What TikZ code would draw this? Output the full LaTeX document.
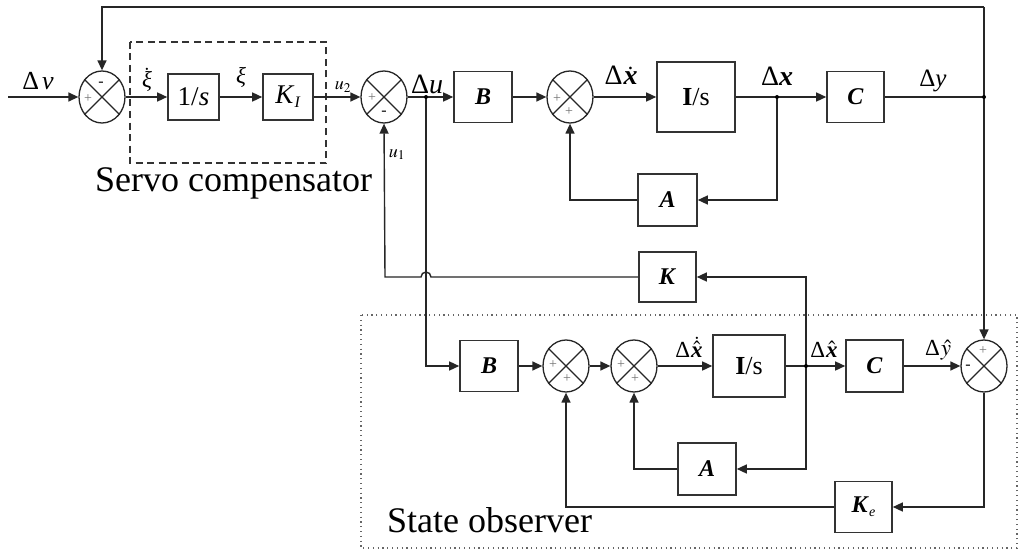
\documentclass[tikz,border=0pt]{standalone}
\usepackage{mathptmx}
\usepackage[no-math]{fontspec}
\setmainfont{Liberation Serif}
\usetikzlibrary{arrows.meta,shapes.geometric}
\newcommand{\fs}[1]{\fontsize{#1}{#1}\selectfont}
\newcommand{\bix}{\hbox{\bfseries\itshape x}}
\tikzset{
  wire/.style={line width=1.4pt, draw=black!85},
  arr/.style={wire, -{Triangle[length=10pt,width=9pt]}},
  blk/.style={draw=black!80, line width=1.6pt, rectangle, inner sep=0pt, font=\fs{24}},
  sumj/.style={draw=black!85, line width=1.3pt, ellipse, minimum width=46pt, minimum height=52pt, inner sep=0pt},
  sgn/.style={text=black!55, font=\fs{14}, inner sep=0pt},
  msgn/.style={text=black!85, font=\fs{16}\bfseries, inner sep=0pt},
  jdot/.style={circle, fill=black, inner sep=0pt, minimum size=4pt},
  lbl/.style={inner sep=0pt, anchor=base}
}
\begin{document}
\begin{tikzpicture}[x=1pt,y=-1pt]
\fill[white] (0,0) rectangle (1024,559);
\useasboundingbox (0,0) rectangle (1024,559);

% frames
\draw[black!80, line width=1.5pt, dash pattern=on 7pt off 4.5pt] (130,42) rectangle (326,163);
\draw[black!60, line width=1.1pt, dash pattern=on 1.2pt off 3.6pt] (361,315) rectangle (1017,548);

% summing junctions
\node[sumj] (s1) at (102,97) {};
\node[sumj] (s2) at (384,97) {};
\node[sumj] (s3) at (570,97) {};
\node[sumj] (s4) at (566,366) {};
\node[sumj] (s5) at (634,366) {};
\node[sumj] (s6) at (984,366) {};
\foreach \s in {s1,s2,s3,s4,s5,s6}{
  \draw[black!85, line width=1.1pt] (\s.45) -- (\s.225) (\s.135) -- (\s.315);
}
% signs
\node[msgn] at (101,84) {-};
\node[sgn] at (88,99) {+};
\node[sgn] at (372,98) {+};
\node[msgn] at (384,113) {-};
\node[sgn] at (557,99) {+};
\node[sgn] at (569,112) {+};
\node[sgn] at (553,365) {+};
\node[sgn] at (567,379) {+};
\node[sgn] at (621,365) {+};
\node[sgn] at (635,379) {+};
\node[sgn] at (983,351) {+};
\node[msgn] at (968,367) {-};

% blocks
\node[blk, minimum width=51pt, minimum height=46pt] (int1) at (193.5,97) {\fs{27}1/\textit{s}};
\node[blk, minimum width=50pt, minimum height=46pt] (KI) at (288,97) {\fs{27}\textit{K}\raisebox{-4pt}{\fs{16}\textit{I}}};
\node[blk, minimum width=58pt, minimum height=51pt] (B) at (483,97) {\textbf{\textit{B}}};
\node[blk, minimum width=78pt, minimum height=70pt] (Int) at (696,97) {\fs{26}\textbf{I}/s};
\node[blk, minimum width=57pt, minimum height=51pt] (C) at (855.5,97) {\textbf{\textit{C}}};
\node[blk, minimum width=59pt, minimum height=52pt] (A) at (667.5,200) {\textbf{\textit{A}}};
\node[blk, minimum width=57pt, minimum height=50pt] (K) at (667.5,277) {\textbf{\textit{K}}};
\node[blk, minimum width=58pt, minimum height=51pt] (B2) at (489,366) {\textbf{\textit{B}}};
\node[blk, minimum width=72pt, minimum height=62pt] (Int2) at (749,366) {\fs{26}\textbf{I}/s};
\node[blk, minimum width=57pt, minimum height=52pt] (C2) at (874.5,366) {\textbf{\textit{C}}};
\node[blk, minimum width=58pt, minimum height=52pt] (A2) at (707,469) {\textbf{\textit{A}}};
\node[blk, minimum width=57pt, minimum height=51pt] (Ke) at (863.5,507) {\textbf{\textit{K}}\raisebox{-4pt}{\fs{14}\textit{e}}};

% coordinates
\coordinate (in) at (8,97);
\coordinate (j1) at (426,97);
\coordinate (j2) at (777,97);
\coordinate (j3) at (984,97);
\coordinate (j4) at (806,366);
\coordinate (tr) at (984,7);
\coordinate (tl) at (102,7);

% forward path
\draw[arr] (in) -- (s1.west);
\draw[arr] (s1.east) -- (int1.west);
\draw[arr] (int1.east) -- (KI.west);
\draw[arr] (KI.east) -- (s2.west);
\draw[arr] (s2.east) -- (B.west);
\draw[arr] (B.east) -- (s3.west);
\draw[arr] (s3.east) -- (Int.west);
\draw[arr] (Int.east) -- (C.west);
\draw[wire] (C.east) -- (j3);
\draw[arr] (tr) -- (tl) -- (s1.north);
\draw[arr] (tr) -- (s6.north);
\draw[arr] (j2) |- (A.east);
\draw[arr] (A.west) -| (s3.south);
% K feedback with hop
\draw[arr] (j4) |- (K.east);
\draw[arr] (K.west) -- (431,277) arc[start angle=0, end angle=180, radius=5pt] -- (385,277) -- (s2.south);
% observer
\draw[arr] (j1) |- (B2.west);
\draw[arr] (B2.east) -- (s4.west);
\draw[arr] (s4.east) -- (s5.west);
\draw[arr] (s5.east) -- (Int2.west);
\draw[arr] (Int2.east) -- (C2.west);
\draw[arr] (C2.east) -- (s6.west);
\draw[arr] (s6.south) |- (Ke.east);
\draw[arr] (Ke.west) -| (s4.south);
\draw[arr] (j4) |- (A2.east);
\draw[arr] (A2.west) -| (s5.south);

\foreach \j in {j1,j2,j3,j4}{ \node[jdot] at (\j) {}; }

% labels
\node[lbl] (lnu) at (38,90) {\fs{26}Δ\hspace{3pt}\textit{ν}};
\node[lbl] (lxid) at (147,88) {\fs{23}$\dot{\hbox{\itshape ξ}}$};
\node[lbl] (lxi) at (241,84) {\fs{23}\textit{ξ}};
\node[lbl] (lu2) at (343,90) {\fs{18}$u_{2}$};
\node[lbl] (ldu) at (427,94) {\fs{28}Δ\textit{u}};
\node[lbl] (ldxd) at (621,85) {\fs{28}Δ\hspace{1pt}$\dot{\bix}$};
\node[lbl] (ldx) at (777,86) {\fs{28}Δ\bix};
\node[lbl] (ldy) at (933,87) {\fs{25}Δ\textit{y}};
\node[lbl] (lu1) at (397,157) {\fs{18}$u_{1}$};
\node[lbl] (ldxhd) at (689,357) {\fs{23}Δ\hspace{1pt}$\dot{\hat{\bix}}$};
\node[lbl] (ldxh) at (824,357) {\fs{23}Δ\hspace{1pt}$\hat{\bix}$};
\node[lbl] (ldyh) at (938,355) {\fs{23}Δ\hspace{1pt}$\hat{y}$};
\node[lbl, anchor=base west] (lservo) at (95,191) {\fs{36}Servo compensator};
\node[lbl, anchor=base west] (lobs) at (387,532) {\fs{36}State observer};
\end{tikzpicture}
\end{document}
